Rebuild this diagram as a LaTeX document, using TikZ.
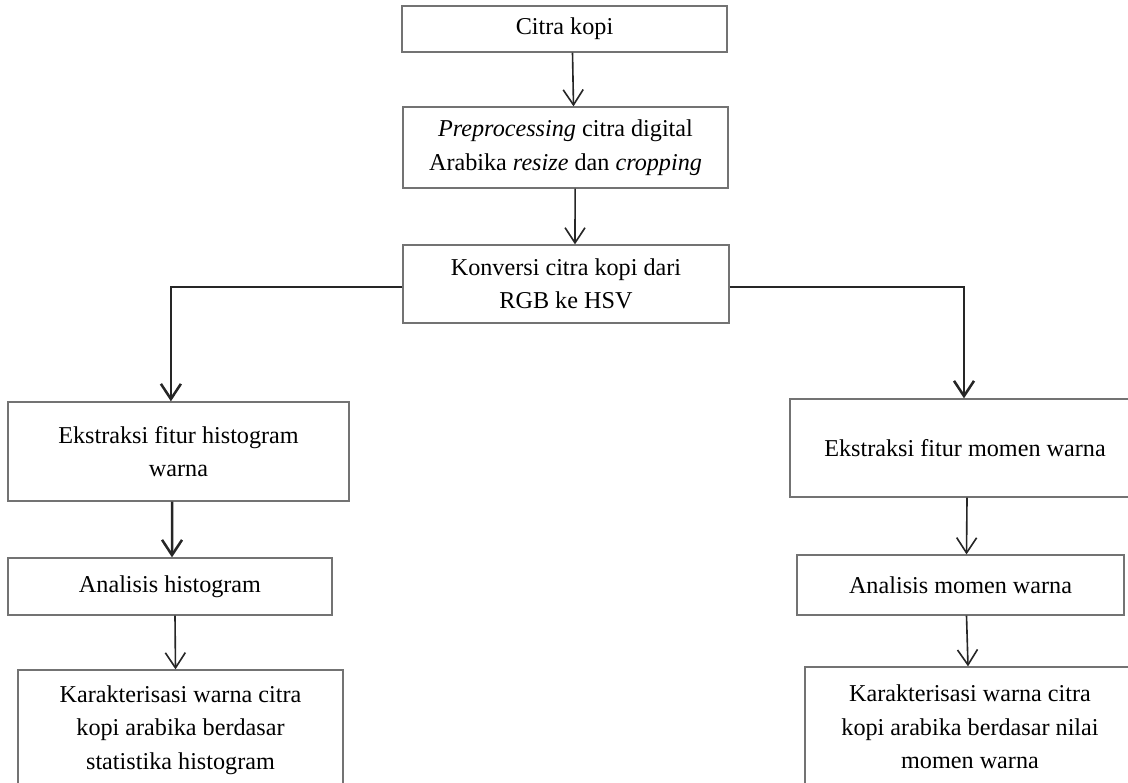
\documentclass[tikz,border=0pt]{standalone}
\usepackage{fontspec}
\setmainfont{Liberation Serif}
\usetikzlibrary{arrows.meta}

\begin{document}
\begin{tikzpicture}[
        x=0.025cm, y=-0.025cm,
        >={Straight Barb[length=0.38cm, width=0.5cm]},
        font=\fontsize{17.2}{23.8}\selectfont,
        block/.style={
            rectangle,
            draw=black!55,
            line width=0.9pt,
            align=center,
            inner sep=0pt,
            fill=white
        },
        arrow/.style={
            ->,
            line width=1.15pt,
            draw=black!85
        },
        branch/.style={
            ->,
            line width=1.8pt,
            draw=black!85
        }
    ]

    \useasboundingbox (0,0) rectangle (1128,782);
    \clip (0,0) rectangle (1128,782);

    \node[block, minimum width=8.125cm, minimum height=1.15cm] (citra) at (564.5,29)
    {\raisebox{-0.1cm}{Citra kopi}};

    \node[block, minimum width=8.125cm, minimum height=2.025cm] (preproc) at (565.5,147.5)
    {\emph{Preprocessing} citra digital\\
     Arabika \emph{resize} dan \emph{cropping}};

    \node[block, minimum width=8.15cm, minimum height=1.95cm] (konversi) at (566,284)
    {Konversi citra kopi dari\\
     RGB ke HSV};

    % cabang histogram
    \node[block, minimum width=8.525cm, minimum height=2.475cm] (ekshist) at (178.5,451.5)
    {Ekstraksi fitur histogram\\
     warna};

    \node[block, minimum width=8.1cm, minimum height=1.425cm] (anahist) at (170,586.5)
    {Analisis histogram};

    \node[block, minimum width=8.125cm, minimum height=3cm] (karhist) at (180.5,730)
    {Karakterisasi warna citra\\
     kopi arabika berdasar\\
     statistika histogram};

    % cabang momen warna
    \node[block, minimum width=8.75cm, minimum height=2.45cm] (eksmomen) at (965,448)
    {Ekstraksi fitur momen warna};

    \node[block, minimum width=8.175cm, minimum height=1.5cm] (anamomen) at (960.5,585)
    {Analisis momen warna};

    \node[block, minimum width=8.25cm, minimum height=3cm] (karmomen) at (970,727)
    {Karakterisasi warna citra\\
     kopi arabika berdasar nilai\\
     momen warna};

    \draw[arrow] ([xshift=0.2cm]citra.south) -- ([xshift=0.2cm]preproc.north);
    \draw[arrow] ([xshift=0.24cm]preproc.south) -- ([xshift=0.225cm]konversi.north);

    \draw[branch] ([yshift=-0.075cm]konversi.west) -| ([xshift=-0.19cm]ekshist.north);
    \draw[branch] ([yshift=-0.075cm]konversi.east) -| ([xshift=-0.025cm]eksmomen.north);

    \draw[branch] ([xshift=-0.16cm]ekshist.south) -- ([xshift=0.05cm]anahist.north);
    \draw[arrow] ([xshift=0.125cm]anahist.south) -- ([xshift=-0.125cm]karhist.north);

    \draw[arrow] ([xshift=0.05cm]eksmomen.south) -- ([xshift=0.15cm]anamomen.north);
    \draw[arrow] ([xshift=0.15cm]anamomen.south) -- ([xshift=-0.05cm]karmomen.north);

    \end{tikzpicture}
\end{document}
